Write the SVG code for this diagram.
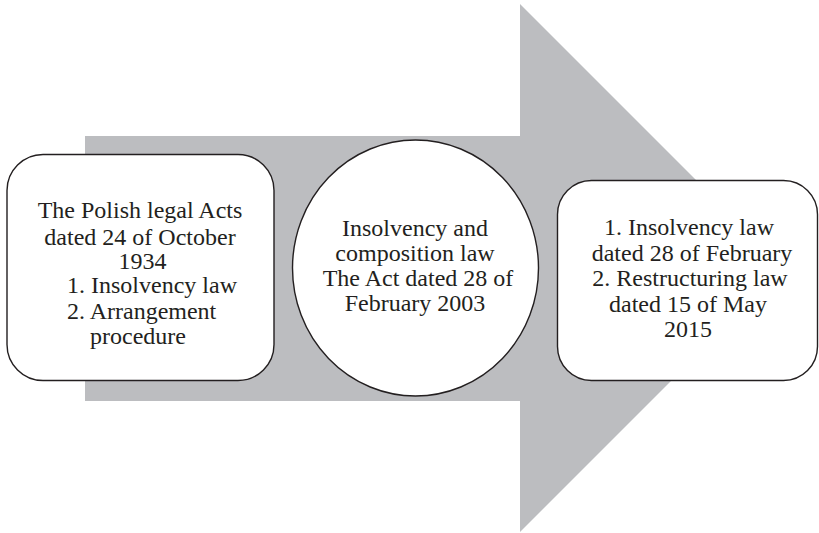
<svg xmlns="http://www.w3.org/2000/svg" width="819" height="533" viewBox="0 0 819 533">
  <style>
    .node { fill: #ffffff; stroke: #231f20; stroke-width: 1.4; }
    .mid { text-anchor: middle; }
  </style>
  <rect width="819" height="533" fill="#ffffff"/>

  <!-- Big block arrow running behind the three stages -->
  <g id="connectors">
    <polygon points="85,136 520,136 520,4 784,268 520,532 520,401 85,401" fill="#bcbdc0"/>
  </g>

  <g font-family="Liberation Serif, Times New Roman, serif" font-size="24" fill="#231f20">
    <!-- Stage 1 -->
    <g id="node-1934">
      <rect class="node" x="7" y="154.5" width="267" height="226" rx="36" ry="36"/>
      <text class="mid" x="140" y="218">The Polish legal Acts</text>
      <text class="mid" x="140" y="244.5">dated 24 of October</text>
      <text class="mid" x="142.5" y="269">1934</text>
      <text x="67" y="293">1. Insolvency law</text>
      <text x="67" y="318.5">2. Arrangement</text>
      <text x="90" y="344">procedure</text>
    </g>

    <!-- Stage 2 -->
    <g id="node-2003">
      <ellipse class="node" cx="415.5" cy="268" rx="123" ry="128"/>
      <text class="mid" x="415" y="236">Insolvency and</text>
      <text class="mid" x="415" y="261">composition law</text>
      <text class="mid" x="418" y="286">The Act dated 28 of</text>
      <text class="mid" x="415" y="311">February 2003</text>
    </g>

    <!-- Stage 3 -->
    <g id="node-2015">
      <rect class="node" x="557.5" y="180.5" width="260" height="200" rx="34" ry="34"/>
      <text class="mid" x="689" y="235">1. Insolvency law</text>
      <text class="mid" x="692" y="260.5">dated 28 of February</text>
      <text class="mid" x="690" y="286">2. Restructuring law</text>
      <text class="mid" x="688" y="311.5">dated 15 of May</text>
      <text class="mid" x="688" y="337">2015</text>
    </g>
  </g>
</svg>
